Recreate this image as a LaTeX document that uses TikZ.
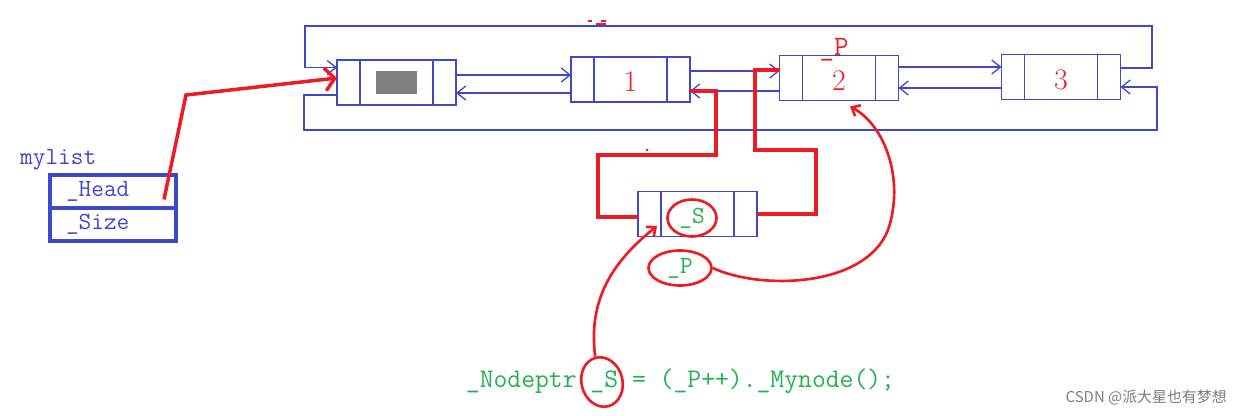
\documentclass[tikz,border=0pt]{standalone}
\usepackage{fontspec}
\newfontfamily\cjkfont{Noto Sans CJK SC}
\usepackage{xcolor}
\usepackage{tikz}
\usetikzlibrary{
arrows.meta,
positioning,
shapes.geometric,
calc
}
\definecolor{pntblue}{RGB}{63,72,204}
\definecolor{pntred}{RGB}{237,28,36}
\definecolor{pntgreen}{RGB}{34,177,76}
\definecolor{pntgray}{RGB}{127,127,127}
\definecolor{markgray}{RGB}{125,125,125}
\newcommand\codefont{\fontsize{15.3}{16}\selectfont\ttfamily}
\newcommand\lblfont{\fontsize{14}{15}\selectfont\ttfamily}
\newcommand\numfont{\fontsize{17}{18}\selectfont\rmfamily}
\newcommand\markfont{\cjkfont\fontsize{8.5}{10}\selectfont}

\begin{document}
\begin{tikzpicture}[
  x=0.02cm, y=-0.02cm,
  node distance=0pt,
  fieldbox/.style={draw=pntblue, line width=0.75pt, minimum height=0.9cm, inner sep=0pt, outer sep=0pt},
  sidebox/.style={fieldbox, minimum width=0.46cm},
  cellbox/.style={fieldbox, minimum width=1.46cm, text=pntred, font=\numfont, text height=0.5cm},
  headbox/.style={draw=pntblue, line width=1.8pt, minimum width=2.52cm, minimum height=0.66cm, inner xsep=0.32cm, inner ysep=0pt, outer sep=0pt, text width=1.88cm, align=left, text=pntblue, font=\lblfont},
  link/.style={draw=pntblue, line width=0.75pt, -{Straight Barb[length=5pt,width=8pt]}},
  ptr/.style={draw=pntred, line width=2pt},
  scrawl/.style={draw=pntred, line width=1.5pt, -{Straight Barb[length=4pt,width=7pt]}},
  circled/.style={draw=pntred, line width=1.5pt, ellipse, inner sep=0pt, text=pntgreen, font=\lblfont}
]
\useasboundingbox (0,0) rectangle (1249,416);

% List nodes
\node[cellbox] (n0) at (396.5,82.5) {};
\node[sidebox, left=of n0] (n0p) {};
\node[sidebox, right=of n0] (n0n) {};
\node[fill=pntgray, minimum width=0.82cm, minimum height=0.48cm, inner sep=0pt] (n0v) at (n0) {};

\node[cellbox] (n1) at (630.5,79.5) {1};
\node[sidebox, left=of n1] (n1p) {};
\node[sidebox, right=of n1] (n1n) {};

\node[cellbox] (n2) at (839,78) {2};
\node[sidebox, left=of n2] (n2p) {};
\node[sidebox, right=of n2] (n2n) {};
\node[font=\fontsize{16}{17}\selectfont\ttfamily, text=pntred] (p2) at (834,50) {\_P};

\node[cellbox] (n3) at (1061,77) {3};
\node[sidebox, left=of n3] (n3p) {};
\node[sidebox, right=of n3] (n3n) {};

% New node
\node[cellbox] (s) at (697.5,214) {};
\node[sidebox, left=of s] (sp) {};
\node[sidebox, right=of s] (sn) {};
\node[circled, minimum width=0.98cm, minimum height=0.74cm] (se) at (692,218) {\_S};
\node[circled, minimum width=1.26cm, minimum height=0.7cm] (pl) at (680,268) {\_P};

% List object
\node[font=\lblfont, text=pntblue, anchor=west] (name) at (14,160) {mylist};
\node[headbox] (hd) at (113,191.5) {\_Head};
\node[headbox, below=of hd] (sz) {\_Size};

% Code line
\node[font=\codefont, text=pntgreen] (code) at (680.5,381) {\_Nodeptr \_S = (\_P++).\_Mynode();};
\node[draw=pntred, line width=1.5pt, ellipse, rotate=15, minimum width=0.82cm, minimum height=1.0cm] (bs) at (602,382) {};

\node[font=\markfont, text=markgray, anchor=east] (mark) at (1233,398) {CSDN @派大星也有梦想};

% Helper points
\coordinate (tl) at (305,26);
\coordinate (tr) at (1152,26);
\coordinate (bl) at (304,130);
\coordinate (br) at (1157,130);
\coordinate (hb) at (186,95);
\coordinate (sa) at (598,155);
\coordinate (sb) at (716,155);
\coordinate (sc) at (816,150);
\coordinate (sd) at (755,150);

% Blue links
\draw[link] ([yshift=.15cm]n0n.east) -- ([yshift=.15cm]n0n.east -| n1p.west);
\draw[link] ([yshift=-.27cm]n1p.west) -- ([yshift=-.27cm]n1p.west -| n0n.east);
\draw[link] ([yshift=.17cm]n1n.east) -- ([yshift=.17cm]n1n.east -| n2p.west);
\draw[link] ([yshift=-.26cm]n2p.west) -- ([yshift=-.26cm]n2p.west -| n1n.east);
\draw[link] ([yshift=.22cm]n2n.east) -- ([yshift=.22cm]n2n.east -| n3p.west);
\draw[link] ([yshift=-.22cm]n3p.west) -- ([yshift=-.22cm]n3p.west -| n2n.east);
\draw[link] ([yshift=.18cm]n3n.east) -| (tr) -- (tl) |- ([yshift=.3cm]n0p.west);
\draw[link] ([yshift=-.25cm]n0p.west) -| (bl) -- (br) |- ([yshift=-.2cm]n3n.east);

% Red pointers
\draw[ptr, -{Straight Barb[length=5.5pt,width=13pt]}] ($(hd.east)+(-12,8)$) -- (hb) -- ([yshift=.09cm]n0p.west);
\draw[ptr] ([yshift=-.06cm]sp.west) -| (sa) -- (sb) |- ([yshift=-.23cm]n1n.east);
\draw[ptr] (sn.east) -| (sc) -- (sd) |- ([yshift=.16cm]n2p.west);
\draw[scrawl] (pl.east) .. controls (760,290) and (865,288) .. (888,230)
  .. controls (905,180) and (885,125) .. ($(n2.south)+(11,6)$);
\draw[scrawl] (bs.north) .. controls (588,300) and (612,262) .. ($(s.west)+(-4,12)$);

% Stray marks
\draw[pntred, line width=1pt] (588,21) -- (592,21) (596,24) -- (606,24) (601,21) -- (606,21);
\fill[pntred] (647,150) circle (1.5);

\end{tikzpicture}
\end{document}
